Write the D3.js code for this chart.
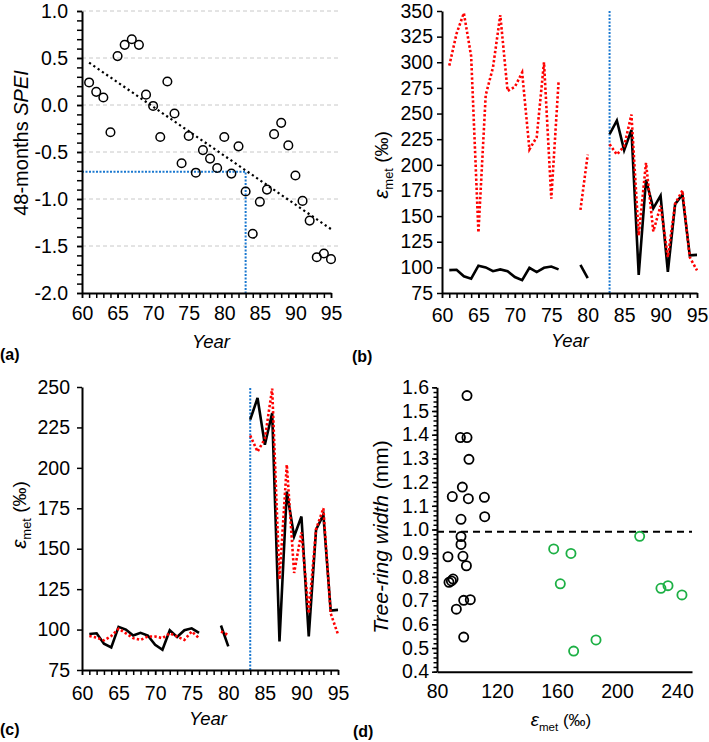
<!DOCTYPE html>
<html><head><meta charset="utf-8">
<script src="https://cdn.jsdelivr.net/npm/d3@7"></script>
<style>body{margin:0;background:#fff} svg{font-family:"Liberation Sans",Arial,sans-serif}</style>
</head><body><svg id="chart" width="709" height="742"></svg>
<script>
// ---------- DATA ----------
const years = [61,62,63,64,65,66,67,68,69,70,71,72,73,74,75,76,77,78,79,80,81,82,83,84,85,86,87,88,89,90,91,92,93,94,95];
const spei = [0.24,0.14,0.08,-0.29,0.52,0.64,0.70,0.64,0.11,-0.01,-0.34,0.25,-0.09,-0.62,-0.33,-0.72,-0.48,-0.57,-0.67,-0.34,-0.73,-0.44,-0.92,-1.37,-1.03,-0.90,-0.31,-0.19,-0.43,-0.75,-1.02,-1.23,-1.62,-1.58,-1.64];
const trendYears = [61,95];
const trendSpei = [0.45,-1.32];
const thresholdYear = 83;
const thresholdSpei = -0.71;
const emetObserved = [97.3,97.7,91.3,89.0,101.7,100.0,96.3,98.0,96.3,90.6,87.5,99.6,95.4,99.6,100.8,98.0,null,null,102.5,89.6,null,null,229.8,243.2,214.3,233.9,92.6,185.4,157.6,169.9,95.7,161.7,171.0,111.8,112.2];
const emetModelB = [296.7,328,348,306,134,268,295,346,272,276,290,215,227,300,167,281,null,null,156,210,null,null,220,210,218,249,131,202,135,160,110,162,175,110,97];
const emetModelC = [96.0,95.0,93.3,96.0,100.5,97.7,94.7,93.6,95.7,95.7,94.7,97.7,95.7,93.6,98.8,94.7,null,null,98.8,96.7,null,null,220,210,218,249,131,202,135,160,110,162,175,110,97];
const dBlackEmet = [100,95.6,100,101.3,96.9,90.2,100.9,111.6,96,111.8,96,96,87.3,97.3,99.6,88,89.6,90.7,97.8,102.2,92.9,97.8];
const dBlackWidth = [1.565,1.388,1.388,1.296,1.179,1.139,1.130,1.136,1.043,1.054,0.970,0.937,0.885,0.887,0.847,0.777,0.783,0.791,0.701,0.704,0.664,0.546];
const dGreenEmet = [157.8,169.3,162.2,171.1,186,215.1,229.3,234,243.3];
const dGreenWidth = [0.918,0.899,0.771,0.487,0.534,0.971,0.752,0.763,0.724];
const ringThreshold = 0.99;
const yearTicks = [60,65,70,75,80,85,90,95];
const speiTicks = [-2.0,-1.5,-1.0,-0.5,0.0,0.5,1.0];
const emetTicksB = [75,100,125,150,175,200,225,250,275,300,325,350];
const emetTicksC = [75,100,125,150,175,200,225,250];
const widthTicks = [0.4,0.5,0.6,0.7,0.8,0.9,1.0,1.1,1.2,1.3,1.4,1.5,1.6];
const emetTicksD = [80,120,160,200,240];

// ---------- DRAW ----------
const svg = d3.select("#chart");
const RED = "#ff0000", BLUE = "#1a78d0", GREEN = "#1db045";
const FS = 19.5;

function styleAxis(g){
  g.select(".domain").attr("stroke","#000").attr("stroke-width",2);
  g.selectAll(".tick line").attr("stroke","#000").attr("stroke-width",1.5);
  g.selectAll(".tick text").attr("fill","#000").attr("font-size",FS).attr("font-family","Liberation Sans, Arial, sans-serif");
}
function minorX(x, y0, vals, size){
  svg.append("g").attr("transform",`translate(0,${y0})`)
    .call(d3.axisBottom(x).tickValues(vals).tickSize(size).tickFormat(""))
    .call(g=>{g.select(".domain").remove(); g.selectAll(".tick line").attr("stroke","#000").attr("stroke-width",1.5);});
}
function minorY(y, x0, vals, size){
  svg.append("g").attr("transform",`translate(${x0},0)`)
    .call(d3.axisLeft(y).tickValues(vals).tickSize(size).tickFormat(""))
    .call(g=>{g.select(".domain").remove(); g.selectAll(".tick line").attr("stroke","#000").attr("stroke-width",1.5);});
}
function label(x,y,txt,opts={}){
  const t = svg.append("text").attr("x",x).attr("y",y).attr("font-size",opts.fs||FS)
    .attr("text-anchor",opts.anchor||"middle").attr("fill","#000").text(txt);
  if(opts.italic) t.attr("font-style","italic");
  if(opts.bold) t.attr("font-weight","bold");
  return t;
}
function emetTitle(x,y,rot,fs){
  const t = svg.append("text").attr("transform",`translate(${x},${y})`+(rot?" rotate(-90)":""))
    .attr("text-anchor","middle").attr("font-size",fs).attr("fill","#000");
  t.append("tspan").attr("font-style","italic").attr("font-size",fs*1.1).text("ε");
  t.append("tspan").attr("font-size",fs*0.68).attr("dy",fs*0.28).text("met");
  t.append("tspan").attr("dy",-fs*0.28).text(" (‰)");
}
const minorYears = d3.range(60,96,1);

// ---- Panel (a)
{
  const x = d3.scaleLinear().domain([60,95]).range([82,331]);
  const y = d3.scaleLinear().domain([-2,1]).range([293,11]);
  svg.append("g").selectAll("line").data(speiTicks.filter(v=>v>-2)).join("line")
    .attr("x1",x(60)).attr("x2",338).attr("y1",d=>y(d)).attr("y2",d=>y(d))
    .attr("stroke","#c8c8c8").attr("stroke-width",1).attr("stroke-dasharray","4,3");
  svg.append("path").attr("d",`M${x(60)},${y(thresholdSpei)}H${x(thresholdYear)}V${y(-2)}`)
    .attr("fill","none").attr("stroke",BLUE).attr("stroke-width",2).attr("stroke-dasharray","2,1.5");
  svg.append("line").attr("x1",x(trendYears[0])).attr("y1",y(trendSpei[0]))
    .attr("x2",x(trendYears[1])).attr("y2",y(trendSpei[1]))
    .attr("stroke","#000").attr("stroke-width",2.2).attr("stroke-dasharray","2.2,3");
  svg.append("g").selectAll("circle").data(years).join("circle")
    .attr("cx",d=>x(d)).attr("cy",(d,i)=>y(spei[i])).attr("r",4.3)
    .attr("fill","none").attr("stroke","#000").attr("stroke-width",1.5);
  minorX(x,293,minorYears,5);
  minorY(y,82,d3.range(-2,1.0001,0.1),5);
  svg.append("g").attr("transform","translate(0,293)")
    .call(d3.axisBottom(x).tickValues(yearTicks).tickSize(5).tickPadding(8).tickSizeOuter(0)).call(styleAxis);
  svg.append("g").attr("transform","translate(82,0)")
    .call(d3.axisLeft(y).tickValues(speiTicks).tickSize(5).tickPadding(9).tickSizeOuter(0).tickFormat(d=>d.toFixed(1))).call(styleAxis);
  label(211,348,"Year",{italic:true,fs:18.5});
  const t = svg.append("text").attr("transform","translate(28,143) rotate(-90)").attr("text-anchor","middle").attr("font-size",20);
  t.append("tspan").text("48-months ");
  t.append("tspan").attr("font-style","italic").text("SPEI");
  label(0,360,"(a)",{anchor:"start",bold:true,fs:16});
}

function linePanel(x,y,y0,y1,model){
  const line = d3.line().defined(d=>d[1]!=null).x(d=>x(d[0])).y(d=>y(d[1]));
  svg.append("line").attr("x1",x(thresholdYear)).attr("x2",x(thresholdYear)).attr("y1",y(y0)).attr("y2",y(y1))
    .attr("stroke",BLUE).attr("stroke-width",2).attr("stroke-dasharray","2,1.5");
  svg.append("path").attr("d",line(years.map((yr,i)=>[yr,emetObserved[i]])))
    .attr("fill","none").attr("stroke","#000").attr("stroke-width",2.6).attr("stroke-linejoin","miter");
  svg.append("path").attr("d",line(years.map((yr,i)=>[yr,model[i]])))
    .attr("fill","none").attr("stroke",RED).attr("stroke-width",2.6).attr("stroke-dasharray","2.4,2.2");
}
// ---- Panel (b)
{
  const x = d3.scaleLinear().domain([60,95]).range([442,697]);
  const y = d3.scaleLinear().domain([75,350]).range([293,11]);
  linePanel(x,y,75,350,emetModelB);
  minorX(x,293,minorYears,5);
  svg.append("g").attr("transform","translate(0,293)")
    .call(d3.axisBottom(x).tickValues(yearTicks).tickSize(5).tickPadding(10).tickSizeOuter(0)).call(styleAxis);
  svg.append("g").attr("transform","translate(442,0)")
    .call(d3.axisLeft(y).tickValues(emetTicksB).tickSize(5).tickPadding(4).tickSizeOuter(0)).call(styleAxis);
  label(570,347,"Year",{italic:true,fs:18.5});
  emetTitle(388,165,true,19);
  label(352,362,"(b)",{anchor:"start",bold:true,fs:16});
}

// ---- Panel (c)
{
  const x = d3.scaleLinear().domain([60,95]).range([82,338]);
  const y = d3.scaleLinear().domain([75,250]).range([670,387]);
  linePanel(x,y,75,250,emetModelC);
  minorX(x,670,minorYears,5);
  svg.append("g").attr("transform","translate(0,670)")
    .call(d3.axisBottom(x).tickValues(yearTicks).tickSize(5).tickPadding(11).tickSizeOuter(0)).call(styleAxis);
  svg.append("g").attr("transform","translate(82,0)")
    .call(d3.axisLeft(y).tickValues(emetTicksC).tickSize(5).tickPadding(7).tickSizeOuter(0)).call(styleAxis);
  label(208,725,"Year",{italic:true,fs:18.5});
  emetTitle(26,515,true,19);
  label(0,735,"(c)",{anchor:"start",bold:true,fs:16});
}

// ---- Panel (d)
{
  const x = d3.scaleLinear().domain([80,250]).range([437,692]);
  const y = d3.scaleLinear().domain([0.4,1.6]).range([671.7,387.3]);
  svg.append("line").attr("x1",x(80)).attr("x2",x(250)).attr("y1",y(ringThreshold)).attr("y2",y(ringThreshold))
    .attr("stroke","#000").attr("stroke-width",2).attr("stroke-dasharray","7,5");
  svg.append("g").selectAll("circle").data(dBlackEmet).join("circle")
    .attr("cx",d=>x(d)).attr("cy",(d,i)=>y(dBlackWidth[i])).attr("r",4.6)
    .attr("fill","none").attr("stroke","#000").attr("stroke-width",1.8);
  svg.append("g").selectAll("circle").data(dGreenEmet).join("circle")
    .attr("cx",d=>x(d)).attr("cy",(d,i)=>y(dGreenWidth[i])).attr("r",4.6)
    .attr("fill","none").attr("stroke",GREEN).attr("stroke-width",1.8);
  minorY(y,437,d3.range(0.4,1.6001,0.02),3.5);
  svg.append("g").attr("transform","translate(0,671.7)")
    .call(d3.axisBottom(x).tickValues(emetTicksD).tickSize(0).tickPadding(12).tickSizeOuter(0)).call(styleAxis);
  svg.append("g").attr("transform","translate(437,0)")
    .call(d3.axisLeft(y).tickValues(widthTicks).tickSize(5).tickPadding(3).tickSizeOuter(0).tickFormat(d=>d.toFixed(1))).call(styleAxis);
  emetTitle(561,726,false,17);
  const t = svg.append("text").attr("transform","translate(388,537) rotate(-90)").attr("text-anchor","middle").attr("font-size",21);
  t.append("tspan").attr("font-style","italic").text("Tree-ring width");
  t.append("tspan").text(" (mm)");
  label(353,737,"(d)",{anchor:"start",bold:true,fs:16});
}
</script></body></html>
